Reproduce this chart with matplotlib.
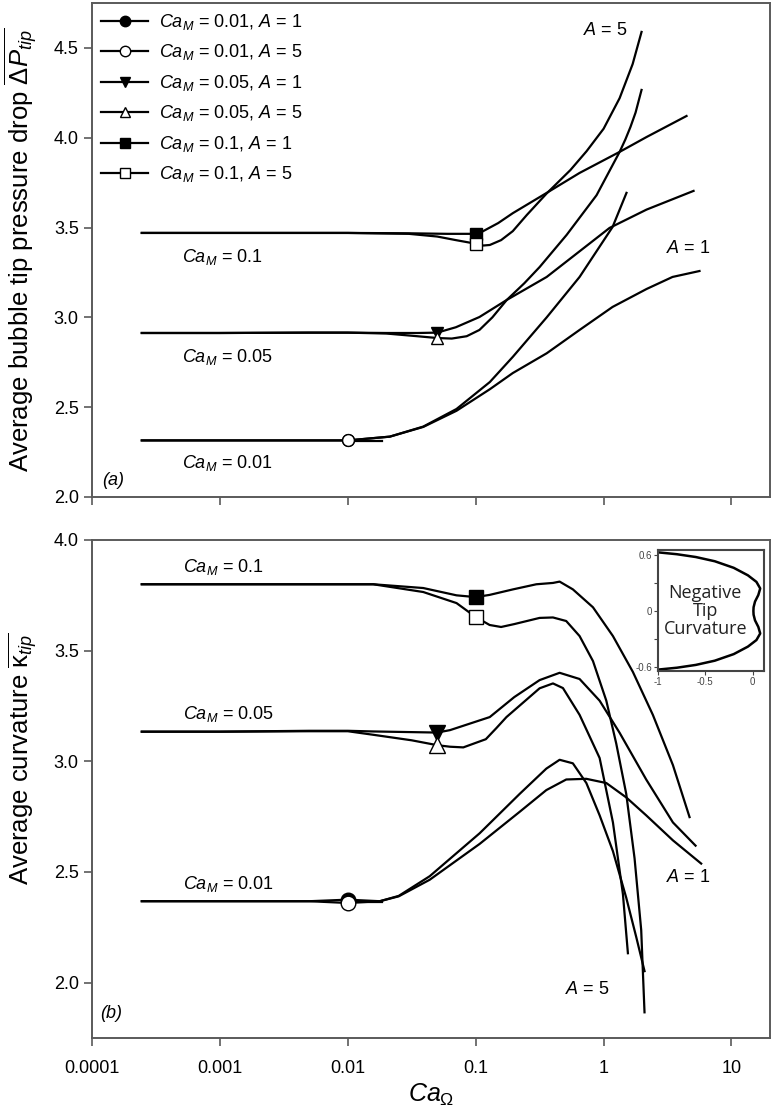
import numpy as np
import matplotlib
matplotlib.use('Agg')
import matplotlib.pyplot as plt
from matplotlib.lines import Line2D

plt.rcParams['font.family'] = ['Liberation Sans', 'DejaVu Sans']
plt.rcParams['mathtext.fontset'] = 'custom'
plt.rcParams['mathtext.rm'] = 'Liberation Sans'
plt.rcParams['mathtext.it'] = 'Liberation Sans:italic'
plt.rcParams['mathtext.bf'] = 'Liberation Sans:bold'

# ---- (a) average bubble tip pressure drop ----
dp_x_01_a1 = [2.45e-4, 0.001, 0.01, 0.03, 0.06, 0.1, 0.111, 0.15, 0.195, 0.359, 0.649, 1.333, 2.168, 4.45]
dp_y_01_a1 = [3.47, 3.47, 3.47, 3.468, 3.465, 3.465, 3.475, 3.525, 3.58, 3.693, 3.804, 3.921, 4.004, 4.121]
dp_x_01_a5 = [2.45e-4, 0.001, 0.01, 0.03, 0.05, 0.07, 0.1, 0.115, 0.129, 0.158, 0.195, 0.251, 0.359,
              0.55, 0.736, 1.0, 1.334, 1.687, 1.98]
dp_y_01_a5 = [3.47, 3.47, 3.47, 3.465, 3.45, 3.43, 3.41, 3.40, 3.403, 3.43, 3.48, 3.57, 3.69,
              3.82, 3.925, 4.05, 4.22, 4.41, 4.589]
dp_x_005_a1 = [2.45e-4, 0.001, 0.005, 0.01, 0.02, 0.035, 0.05, 0.07, 0.107, 0.175, 0.359, 1.114, 2.168, 5.05]
dp_y_005_a1 = [2.913, 2.913, 2.915, 2.915, 2.913, 2.913, 2.915, 2.945, 3.002, 3.097, 3.225, 3.498, 3.60, 3.704]
dp_x_005_a5 = [2.45e-4, 0.001, 0.005, 0.01, 0.02, 0.035, 0.05, 0.065, 0.085, 0.107, 0.135, 0.175, 0.24,
               0.316, 0.514, 0.881, 1.334, 1.479, 1.622, 1.778, 1.98]
dp_y_005_a5 = [2.913, 2.913, 2.915, 2.915, 2.91, 2.895, 2.885, 2.882, 2.895, 2.93, 3.0, 3.097, 3.19,
               3.28, 3.459, 3.68, 3.921, 3.99, 4.06, 4.14, 4.266]
dp_x_001_a1 = [2.45e-4, 0.001, 0.005, 0.01, 0.0213, 0.0389, 0.0708, 0.129, 0.195, 0.359, 0.649, 1.175,
               2.168, 3.459, 5.62]
dp_y_001_a1 = [2.315, 2.315, 2.315, 2.315, 2.336, 2.39, 2.48, 2.60, 2.69, 2.80, 2.93, 3.058,
               3.158, 3.225, 3.258]
dp_x_001_a5 = [2.45e-4, 0.001, 0.005, 0.01, 0.0213, 0.0389, 0.0708, 0.129, 0.195, 0.359, 0.649, 1.175, 1.51]
dp_y_001_a5 = [2.315, 2.315, 2.315, 2.315, 2.336, 2.392, 2.49, 2.64, 2.78, 3.00, 3.225, 3.503, 3.693]
dp_stub_x = [0.01, 0.0186]
dp_stub_y = [2.312, 2.312]

# ---- (b) average tip curvature ----
k_x_01_a1 = [2.45e-4, 0.001, 0.01, 0.0158, 0.0389, 0.0708, 0.1, 0.1285, 0.196, 0.298, 0.402, 0.453,
             0.575, 0.826, 1.183, 1.694, 2.427, 3.483, 4.699]
k_y_01_a1 = [3.80, 3.80, 3.80, 3.80, 3.783, 3.75, 3.742, 3.752, 3.777, 3.80, 3.806, 3.812,
             3.777, 3.696, 3.566, 3.404, 3.21, 2.983, 2.748]
k_x_01_a5 = [2.45e-4, 0.001, 0.01, 0.0158, 0.0389, 0.0708, 0.1, 0.1285, 0.158, 0.2, 0.316, 0.402,
             0.51, 0.649, 0.826, 1.05, 1.256, 1.503, 1.746, 1.968, 2.089]
k_y_01_a5 = [3.80, 3.80, 3.80, 3.80, 3.765, 3.715, 3.652, 3.616, 3.607, 3.62, 3.648, 3.65,
             3.634, 3.566, 3.453, 3.274, 3.08, 2.853, 2.562, 2.238, 1.866]
k_x_005_a1 = [2.45e-4, 0.001, 0.005, 0.01, 0.0158, 0.0316, 0.05, 0.063, 0.1288, 0.2, 0.316, 0.453,
              0.649, 0.931, 1.334, 2.153, 3.483, 5.236]
k_y_005_a1 = [3.134, 3.134, 3.138, 3.138, 3.135, 3.132, 3.13, 3.141, 3.20, 3.29, 3.367, 3.40,
              3.372, 3.274, 3.129, 2.918, 2.724, 2.619]
k_x_005_a5 = [2.45e-4, 0.001, 0.005, 0.01, 0.0158, 0.0316, 0.05, 0.063, 0.08, 0.12, 0.145, 0.174,
              0.316, 0.402, 0.481, 0.649, 0.931, 1.183, 1.416, 1.549]
k_y_005_a5 = [3.134, 3.134, 3.136, 3.136, 3.12, 3.095, 3.073, 3.066, 3.063, 3.10, 3.15, 3.20,
              3.33, 3.352, 3.331, 3.21, 3.015, 2.724, 2.40, 2.133]
k_x_001_a1 = [2.45e-4, 0.001, 0.005, 0.01, 0.0178, 0.025, 0.0437, 0.1074, 0.2208, 0.3565, 0.5105,
              0.7328, 1.05, 1.503, 2.153, 3.483, 5.794]
k_y_001_a1 = [2.368, 2.368, 2.368, 2.375, 2.368, 2.39, 2.465, 2.627, 2.772, 2.87, 2.918,
              2.921, 2.902, 2.837, 2.756, 2.643, 2.538]
k_x_001_a5 = [2.45e-4, 0.001, 0.005, 0.01, 0.0178, 0.025, 0.0437, 0.1074, 0.2208, 0.3565, 0.453,
              0.575, 0.733, 0.931, 1.183, 1.503, 1.8, 2.09]
k_y_001_a5 = [2.368, 2.368, 2.368, 2.36, 2.368, 2.392, 2.481, 2.675, 2.853, 2.967, 3.007,
              2.991, 2.902, 2.756, 2.594, 2.384, 2.206, 2.052]
k_stub_x = [0.01, 0.0185]
k_stub_y = [2.365, 2.365]

# inset: bubble shape with negative tip curvature
shape_x = [-1.0, -0.8, -0.6, -0.4, -0.2, -0.05, 0.04, 0.08, 0.06, 0.025, 0.01, 0.008,
           0.01, 0.025, 0.06, 0.08, 0.04, -0.05, -0.2, -0.4, -0.6, -0.8, -1.0]
shape_y = [0.625, 0.605, 0.575, 0.53, 0.46, 0.38, 0.31, 0.24, 0.17, 0.1, 0.04, 0.0,
           -0.04, -0.1, -0.17, -0.24, -0.31, -0.38, -0.46, -0.53, -0.575, -0.605, -0.625]

cam_values = [0.01, 0.01, 0.05, 0.05, 0.1, 0.1]
a_values = [1, 5, 1, 5, 1, 5]
markers = ['o', 'o', 'v', '^', 's', 's']
faces = ['black', 'white', 'black', 'white', 'black', 'white']

top_series = [(dp_x_001_a1, dp_y_001_a1), (dp_x_001_a5, dp_y_001_a5),
              (dp_x_005_a1, dp_y_005_a1), (dp_x_005_a5, dp_y_005_a5),
              (dp_x_01_a1, dp_y_01_a1), (dp_x_01_a5, dp_y_01_a5)]
bot_series = [(k_x_001_a1, k_y_001_a1), (k_x_001_a5, k_y_001_a5),
              (k_x_005_a1, k_y_005_a1), (k_x_005_a5, k_y_005_a5),
              (k_x_01_a1, k_y_01_a1), (k_x_01_a5, k_y_01_a5)]

W, H = 773, 1119
fig = plt.figure(figsize=(W / 100, H / 100), dpi=100)
ax1 = fig.add_axes([92 / W, 1 - 497 / H, 678 / W, 494 / H])
ax2 = fig.add_axes([92 / W, 1 - 1038 / H, 678 / W, 498 / H])

spine_col = '#5a5a5a'
fs = 13


def draw(ax, series, msizes, stub):
    for (x, y), cam, m, fc, ms in zip(series, cam_values, markers, faces, msizes):
        i = int(np.argmin(np.abs(np.array(x) - cam)))
        ax.plot(x, y, color='black', lw=1.6, marker=m, markevery=[i], ms=ms,
                mfc=fc, mec='black', mew=1.0, zorder=3 if fc == 'white' else 2,
                solid_joinstyle='round')
    ax.plot(stub[0], stub[1], color='black', lw=1.6, zorder=1)
    ax.set_xscale('log')
    ax.set_xlim(1e-4, 20)
    ax.set_xticks([1e-4, 1e-3, 1e-2, 1e-1, 1, 10])
    ax.minorticks_off()
    for s in ax.spines.values():
        s.set_color(spine_col)
        s.set_linewidth(1.4)
    ax.tick_params(direction='out', length=6, width=1.2, color=spine_col,
                   labelsize=fs, top=False, right=False)
    ax.tick_params(axis='x', pad=10)


draw(ax1, top_series, [8.5, 8.5, 9, 9, 8.5, 8.5], (dp_stub_x, dp_stub_y))
draw(ax2, bot_series, [10.5, 10.5, 11, 11, 10.5, 10.5], (k_stub_x, k_stub_y))

ax1.set_ylim(2.0, 4.75)
ax1.set_yticks([2.0, 2.5, 3.0, 3.5, 4.0, 4.5])
ax1.set_yticklabels(['2.0', '2.5', '3.0', '3.5', '4.0', '4.5'])
ax1.tick_params(labelbottom=False)
ax2.set_ylim(1.75, 4.0)
ax2.set_yticks([2.0, 2.5, 3.0, 3.5, 4.0])
ax2.set_yticklabels(['2.0', '2.5', '3.0', '3.5', '4.0'])
ax2.set_xticklabels(['0.0001', '0.001', '0.01', '0.1', '1', '10'])

ax1.set_ylabel(r'Average bubble tip pressure drop $\overline{\Delta P_{tip}}$', fontsize=18.5)
ax1.yaxis.set_label_coords(-0.077, 0.5)
ax2.set_ylabel(r'Average curvature $\overline{\mathrm{\kappa}_{tip}}$', fontsize=18.5)
ax2.yaxis.set_label_coords(-0.077, 0.56)
ax2.set_xlabel(r'$Ca_{\Omega}$', fontsize=18, labelpad=3)

# legend
handles = [Line2D([], [], color='black', lw=1.6, marker=m, ms=7.5, mfc=fc, mec='black', mew=1.0)
           for m, fc in zip(markers, faces)]
labels = [r'$Ca_M$ = %g, $A$ = %d' % (c, a) for c, a in zip(cam_values, a_values)]
ax1.legend(handles, labels, loc='upper left', frameon=False, fontsize=fs,
           handlelength=2.6, labelspacing=0.58, borderaxespad=0.1, handletextpad=0.6,
           bbox_to_anchor=(0.0, 1.0))

# annotations panel (a)
ax1.text(5.05e-4, 3.308, r'$Ca_M$ = 0.1', fontsize=fs, va='baseline')
ax1.text(5.05e-4, 2.753, r'$Ca_M$ = 0.05', fontsize=fs, va='baseline')
ax1.text(5.05e-4, 2.161, r'$Ca_M$ = 0.01', fontsize=fs, va='baseline')
ax1.text(0.686, 4.572, r'$A$ = 5', fontsize=fs, va='baseline')
ax1.text(3.1, 3.359, r'$A$ = 1', fontsize=fs, va='baseline')
ax1.text(0.015, 0.024, '(a)', fontsize=fs, style='italic', transform=ax1.transAxes)

# annotations panel (b)
ax2.text(5.14e-4, 3.857, r'$Ca_M$ = 0.1', fontsize=fs, va='baseline')
ax2.text(5.14e-4, 3.19, r'$Ca_M$ = 0.05', fontsize=fs, va='baseline')
ax2.text(5.14e-4, 2.423, r'$Ca_M$ = 0.01', fontsize=fs, va='baseline')
ax2.text(3.1, 2.456, r'$A$ = 1', fontsize=fs, va='baseline')
ax2.text(0.495, 1.948, r'$A$ = 5', fontsize=fs, va='baseline')
ax2.text(0.012, 0.04, '(b)', fontsize=fs, style='italic', transform=ax2.transAxes)

# inset
axi = fig.add_axes([658 / W, 1 - 671 / H, 106 / W, 121 / H])
axi.plot(shape_x, shape_y, color='black', lw=1.8, solid_joinstyle='round')
axi.set_xlim(-1.0, 0.12)
axi.set_ylim(-0.64, 0.65)
axi.set_xticks([-1, -0.5, 0])
axi.set_xticklabels(['-1', '-0.5', '0'])
axi.set_yticks([-0.6, 0, 0.6])
axi.set_yticklabels(['-0.6', '0', '0.6'])
axi.set_yticks([-0.3, 0.3], minor=True)
for s in axi.spines.values():
    s.set_color('#444444')
    s.set_linewidth(1.5)
axi.tick_params(direction='out', length=3, width=0.8, color='#444444', labelsize=7,
                labelcolor='#444444', pad=1)
axi.tick_params(which='minor', direction='out', length=3, width=0.8, color='#444444')
axi.text(-0.5, 0.0, 'Negative\nTip\nCurvature', ha='center', va='center', fontsize=13,
         family=['Open Sans', 'DejaVu Sans'], color='#222222', linespacing=1.0)

fig.savefig('out.png', dpi=100)
